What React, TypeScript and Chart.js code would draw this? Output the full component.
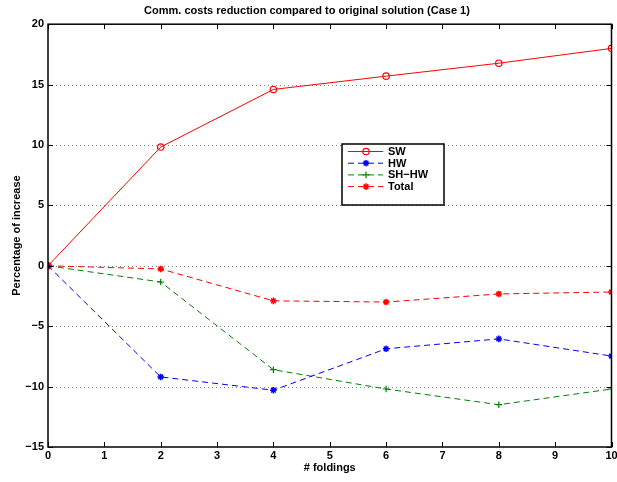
import React, { useEffect, useRef } from "react";
import { Chart, registerables } from "chart.js";

Chart.register(...registerables);

const foldings = [0, 2, 4, 6, 8, 10];
const swValues = [0, 9.83, 14.6, 15.7, 16.77, 18.0];
const hwValues = [0, -9.2, -10.3, -6.87, -6.05, -7.47];
const shhwValues = [0, -1.34, -8.6, -10.2, -11.5, -10.2];
const totalValues = [0, -0.26, -2.9, -3.0, -2.33, -2.17];
const xTicks = [0, 1, 2, 3, 4, 5, 6, 7, 8, 9, 10];
const yTicks = [-15, -10, -5, 0, 5, 10, 15, 20];
const seriesNames = ["SW", "HW", "SH\u2212HW", "Total"];

const FONT = "'Liberation Sans', Arial, Helvetica, sans-serif";

function drawMarker(ctx: CanvasRenderingContext2D, style: string, r: number, color: string, x: number, y: number) {
  ctx.save();
  ctx.strokeStyle = color;
  ctx.setLineDash([]);
  ctx.beginPath();
  if (style === "circle") {
    ctx.lineWidth = 1.2;
    ctx.arc(x, y, r, 0, Math.PI * 2);
  } else if (style === "cross") {
    ctx.lineWidth = 1.2;
    ctx.moveTo(x - r, y);
    ctx.lineTo(x + r, y);
    ctx.moveTo(x, y - r);
    ctx.lineTo(x, y + r);
  } else {
    ctx.lineWidth = 1.5;
    ctx.moveTo(x - r, y);
    ctx.lineTo(x + r, y);
    ctx.moveTo(x, y - r);
    ctx.lineTo(x, y + r);
    const d = r * 0.707;
    ctx.moveTo(x - d, y - d);
    ctx.lineTo(x + d, y + d);
    ctx.moveTo(x - d, y + d);
    ctx.lineTo(x + d, y - d);
  }
  ctx.stroke();
  ctx.restore();
}

const boxPlugin = {
  id: "matlabBox",
  afterDatasetsDraw(chart: any) {
    const { ctx, chartArea: a } = chart;
    const xs = chart.scales.x;
    const ys = chart.scales.y;
    ctx.save();
    ctx.strokeStyle = "#000";
    ctx.lineWidth = 1.5;
    ctx.setLineDash([]);
    ctx.strokeRect(a.left, a.top, a.right - a.left, a.bottom - a.top);
    ctx.lineWidth = 1;
    const tl = 5;
    ctx.beginPath();
    for (const t of xTicks) {
      const px = Math.round(xs.getPixelForValue(t)) + 0.5;
      ctx.moveTo(px, a.bottom);
      ctx.lineTo(px, a.bottom - tl);
      ctx.moveTo(px, a.top);
      ctx.lineTo(px, a.top + tl);
    }
    for (const t of yTicks) {
      const py = Math.round(ys.getPixelForValue(t)) + 0.5;
      ctx.moveTo(a.left, py);
      ctx.lineTo(a.left + tl, py);
      ctx.moveTo(a.right, py);
      ctx.lineTo(a.right - tl, py);
    }
    ctx.stroke();

    // legend
    const lx = 342, ly = 144, lw = 102, lh = 61;
    ctx.fillStyle = "#fff";
    ctx.fillRect(lx, ly, lw, lh);
    ctx.lineWidth = 1.5;
    ctx.strokeStyle = "#000";
    ctx.strokeRect(lx, ly, lw, lh);
    const datasets = chart.data.datasets;
    ctx.font = `bold 11px ${FONT}`;
    ctx.textBaseline = "middle";
    ctx.textAlign = "left";
    datasets.forEach((ds: any, i: number) => {
      const y = ly + 7.5 + i * 11.7;
      ctx.strokeStyle = ds.borderColor;
      ctx.lineWidth = 1;
      ctx.setLineDash(ds.borderDash || []);
      ctx.beginPath();
      ctx.moveTo(lx + 6, y);
      ctx.lineTo(lx + 41, y);
      ctx.stroke();
      ctx.setLineDash([]);
      drawMarker(ctx, ds.pointStyle, ds.pointRadius, ds.borderColor, lx + 24, y);
      ctx.fillStyle = "#000";
      ctx.fillText(ds.label, lx + 46, y + 0.5);
    });
    ctx.restore();
  },
};

export default function App() {
  const ref = useRef<HTMLCanvasElement>(null);
  useEffect(() => {
    document.body.style.margin = "0";
    const mk = (label: string, data: number[], color: string, style: string, dash: number[]) => ({
      label,
      data: foldings.map((x, i) => ({ x, y: data[i] })),
      borderColor: color,
      backgroundColor: style === "circle" ? "rgba(0,0,0,0)" : color,
      pointBorderColor: color,
      pointBackgroundColor: style === "circle" ? "rgba(0,0,0,0)" : color,
      borderWidth: 1,
      borderDash: dash,
      pointStyle: style,
      pointRadius: style === "circle" ? 3.2 : 3.3,
      pointBorderWidth: style === "star" ? 1.5 : 1.2,
      tension: 0,
      fill: false,
    });
    const chart = new Chart(ref.current!, {
      type: "line",
      data: {
        datasets: [
          mk(seriesNames[0], swValues, "#ff0000", "circle", []),
          mk(seriesNames[1], hwValues, "#0000ff", "star", [6, 4]),
          mk(seriesNames[2], shhwValues, "#008000", "cross", [6, 4]),
          mk(seriesNames[3], totalValues, "#ff0000", "star", [6, 4]),
        ],
      },
      options: {
        animation: false,
        responsive: false,
        layout: { padding: { left: 0, right: 3, top: 0, bottom: 0 } },
        plugins: {
          legend: { display: false },
          tooltip: { enabled: false },
          title: {
            display: true,
            text: "Comm. costs reduction compared to original solution (Case 1)",
            color: "#000",
            font: { family: FONT, size: 11, weight: "bold" },
            padding: { top: 4, bottom: 7 },
          },
        },
        scales: {
          x: {
            type: "linear",
            min: 0,
            max: 10,
            afterBuildTicks: (s: any) => {
              s.ticks = xTicks.map((v) => ({ value: v }));
            },
            afterFit: (s: any) => {
              s.height = 35;
              s.paddingLeft = 0;
              s.paddingRight = 0;
            },
            grid: { display: false, drawTicks: false },
            border: { display: false },
            ticks: {
              color: "#000",
              font: { family: FONT, size: 11, weight: "bold" },
              padding: 2,
              maxRotation: 0,
              autoSkip: false,
            },
            title: {
              display: true,
              text: "# foldings",
              color: "#000",
              font: { family: FONT, size: 11, weight: "bold" },
              padding: { top: 0, bottom: 7 },
            },
          },
          y: {
            type: "linear",
            min: -15,
            max: 20,
            afterBuildTicks: (s: any) => {
              s.ticks = yTicks.map((v) => ({ value: v }));
            },
            afterFit: (s: any) => {
              s.width = 48;
              s.paddingTop = 0;
              s.paddingBottom = 0;
            },
            grid: { display: false, drawTicks: false },
            border: { display: false },
            ticks: {
              color: "#000",
              font: { family: FONT, size: 11, weight: "bold" },
              padding: 4,
              autoSkip: false,
              callback: (v: any) => (Number(v) < 0 ? "\u2212" + Math.abs(Number(v)) : String(v)),
            },
            title: {
              display: true,
              text: "Percentage of increase",
              color: "#000",
              font: { family: FONT, size: 11, weight: "bold" },
              padding: { top: 10, bottom: 2 },
            },
          },
        },
      },
      plugins: [
        {
          id: "dotGrid",
          beforeDatasetsDraw(chart: any) {
            const { ctx, chartArea: a } = chart;
            const ys = chart.scales.y;
            ctx.save();
            ctx.strokeStyle = "#888";
            ctx.lineWidth = 1;
            ctx.setLineDash([1, 3]);
            ctx.beginPath();
            for (const t of yTicks) {
              if (t === -15 || t === 20) continue;
              const py = Math.round(ys.getPixelForValue(t)) + 0.5;
              ctx.moveTo(a.left, py);
              ctx.lineTo(a.right, py);
            }
            ctx.stroke();
            ctx.restore();
          },
        },
        boxPlugin,
      ],
    } as any);
    return () => chart.destroy();
  }, []);
  return <canvas ref={ref} width={617} height={482} style={{ display: "block" }} />;
}
